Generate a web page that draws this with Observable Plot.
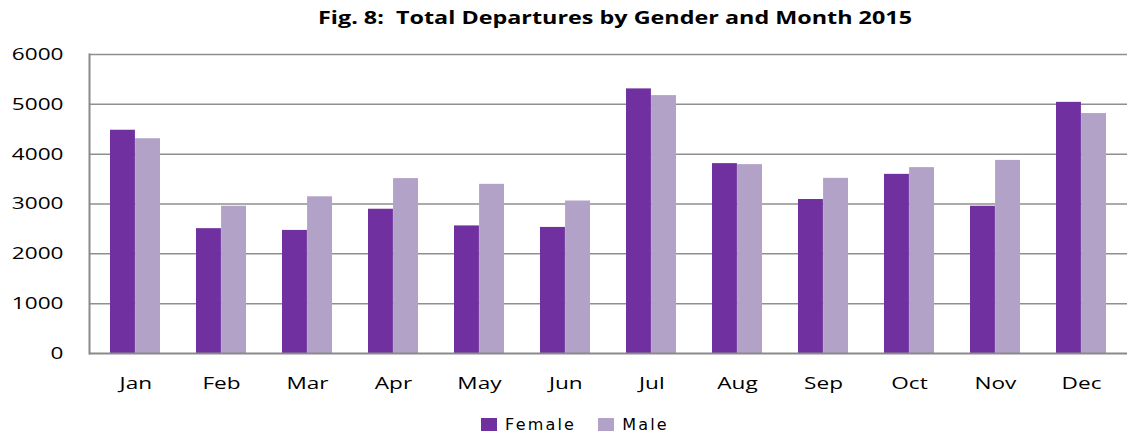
<!DOCTYPE html>
<html>
<head>
<meta charset="utf-8">
<script src="https://cdn.jsdelivr.net/npm/d3@7"></script>
<script src="https://cdn.jsdelivr.net/npm/@observablehq/plot@0.6"></script>
<style>
  html, body { margin: 0; padding: 0; background: #fff; }
  body { width: 1128px; height: 440px; overflow: hidden; font-family: "DejaVu Sans", sans-serif; }
  #title { position: relative; height: 40px; }
  #title span { position: absolute; left: 615px; top: 8px; white-space: nowrap; font-family: "Open Sans", sans-serif; font-weight: bold; font-size: 17px; line-height: 20px; color: #000; transform-origin: 0 50%; }
  #legend { display: flex; justify-content: center; align-items: center; gap: 22px; margin-top: 12px; font-size: 16px; letter-spacing: 2.2px; padding-left: 22px; }
  .sw { display: inline-block; width: 16px; height: 13px; margin-right: 8px; vertical-align: -1px; }
</style>
</head>
<body>
<div id="title"><span>Fig. 8:&nbsp; Total Departures by Gender and Month 2015</span></div>
<div id="chart"></div>
<div id="legend"></div>
<script>
const months = ["Jan","Feb","Mar","Apr","May","Jun","Jul","Aug","Sep","Oct","Nov","Dec"];
const female = [4480, 2505, 2470, 2895, 2560, 2530, 5310, 3810, 3090, 3595, 2955, 5040];
const male   = [4310, 2955, 3145, 3510, 3395, 3060, 5175, 3790, 3515, 3730, 3875, 4815];
const yTicks = [0, 1000, 2000, 3000, 4000, 5000, 6000];
const series = ["Female", "Male"];
const colors = ["#7030A0", "#B3A2C7"];

const data = months.flatMap((m, i) => [
  {month: m, gender: "Female", value: female[i]},
  {month: m, gender: "Male", value: male[i]}
]);

const width = 1128, height = 363, marginLeft = 89, marginRight = 1;
const padding = 0.42;
const step = (width - marginLeft - marginRight) / 12;
const half = step * (1 - padding) / 2;

const chart = Plot.plot({
  width, height,
  marginLeft, marginRight, marginTop: 14, marginBottom: 50,
  style: {fontFamily: "Open Sans, sans-serif", fontSize: "17px", color: "#000", background: "#fff"},
  x: {domain: months, paddingInner: padding, paddingOuter: padding / 2, align: 0.5, label: null},
  y: {domain: [0, 6000], ticks: yTicks, label: null},
  color: {domain: series, range: colors},
  marks: [
    Plot.ruleY(yTicks.filter(d => d > 0), {stroke: "#8f8f8f", strokeWidth: 1.5}),
    Plot.barY(data.filter(d => d.gender === "Female"), {x: "month", y: "value", fill: "gender", insetLeft: 0, insetRight: half}),
    Plot.barY(data.filter(d => d.gender === "Male"), {x: "month", y: "value", fill: "gender", insetLeft: half, insetRight: 0}),
    Plot.ruleY([0], {stroke: "#8a8a8a", strokeWidth: 2}),
    Plot.frame({anchor: "left", stroke: "#8a8a8a", strokeWidth: 2}),
    Plot.axisY({ticks: yTicks, tickSize: 0, tickPadding: 26, tickFormat: d => String(d), fill: "#000", fontSize: 17}),
    Plot.axisX({tickSize: 0, tickPadding: 23, fill: "#000", fontSize: 17})
  ]
});
document.getElementById("chart").appendChild(chart);

// the reference's axis lettering is horizontally stretched: widen each label about its anchor
const stretch = 1.33;
function widen(selector, anchor) {
  chart.querySelectorAll(selector).forEach(t => {
    const b = t.getBBox();
    const ax = anchor === "end" ? b.x + b.width : b.x + b.width / 2;
    if (!isFinite(ax)) return;
    const tr = t.getAttribute("transform") || "";
    t.setAttribute("transform", `${tr} translate(${ax},0) scale(${stretch},1) translate(${-ax},0)`.trim());
  });
}
widen('[aria-label="y-axis tick label"] text', "end");
widen('[aria-label="x-axis tick label"] text', "middle");

// stretch title horizontally to match the reference's wide lettering, centred at x=615
const t = document.querySelector("#title span");
const w = t.getBoundingClientRect().width;
const target = 594;
t.style.transform = `translateX(${-target / 2}px) scaleX(${target / w})`;

const legend = document.getElementById("legend");
series.forEach((s, i) => {
  const item = document.createElement("span");
  const sw = document.createElement("span");
  sw.className = "sw";
  sw.style.background = colors[i];
  item.appendChild(sw);
  item.appendChild(document.createTextNode(s));
  legend.appendChild(item);
});
</script>
</body>
</html>
